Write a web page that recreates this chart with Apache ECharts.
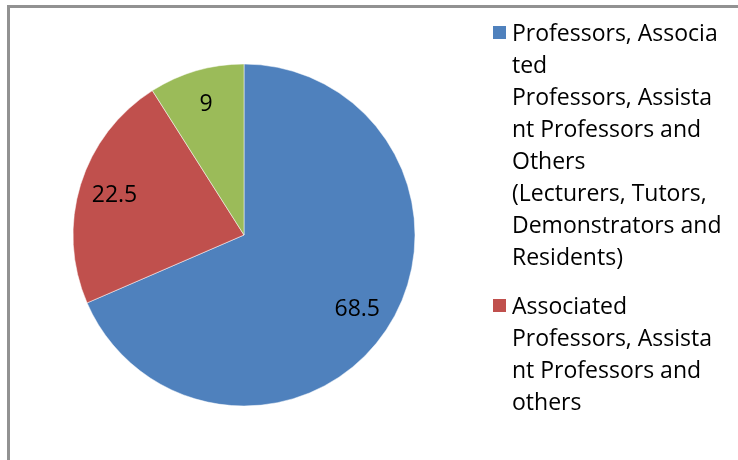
<!DOCTYPE html>
<html>
<head>
<meta charset="utf-8">
<script src="https://cdn.jsdelivr.net/npm/echarts@6/dist/echarts.min.js"></script>
<style>
  html, body { margin: 0; padding: 0; background: #fff; }
  #chart { width: 738px; height: 460px; }
</style>
</head>
<body>
<div id="chart"></div>
<script>
// categories as shown in the legend (line breaks as in the picture)
var categories = [
    'Professors, Associa\nted\nProfessors, Assista\nnt Professors and\nOthers\n(Lecturers, Tutors,\nDemonstrators and\nResidents)',
    'Associated\nProfessors, Assista\nnt Professors and\nothers',
    'Others'
];
var values = [68.5, 22.5, 9];
var colors = ['#4F81BD', '#C0504D', '#9BBB59'];

var FONT = '"Open Sans", sans-serif';
var LINE = 32;

var chartDiv = document.getElementById('chart');
var chart = echarts.init(chartDiv);

var pieData = categories.map(function (name, i) {
    return { name: name, value: values[i], itemStyle: { color: colors[i] } };
});

// legend marker sits next to the first line of a multi-line label
function legendIcon(lines) {
    var h = lines * LINE;
    return 'path://M0,0h0.01M0,7h15v15h-15zM0,' + h + 'h0.01';
}
function makeLegend(idx, top) {
    var lines = categories[idx].split('\n').length;
    return {
        orient: 'vertical',
        left: 491,
        top: top,
        padding: 0,
        itemWidth: 15,
        itemHeight: lines * LINE,
        selectedMode: false,
        icon: legendIcon(lines),
        data: [categories[idx]],
        textStyle: {
            fontFamily: FONT,
            fontSize: 23,
            lineHeight: LINE,
            color: '#000'
        }
    };
}

var option = {
    animation: false,
    backgroundColor: '#fff',
    graphic: [{
        type: 'rect',
        shape: { x: 8.5, y: 6.5, width: 800, height: 500 },
        style: { fill: 'none', stroke: '#929292', lineWidth: 3 },
        silent: true
    }],
    legend: [makeLegend(0, 17), makeLegend(1, 290)],
    series: [
        {
            name: 'pie',
            type: 'pie',
            center: [244, 235],
            radius: 171,
            startAngle: 90,
            clockwise: true,
            label: { show: false },
            labelLine: { show: false },
            itemStyle: { borderColor: '#fff', borderWidth: 0.5 },
            emphasis: { disabled: true },
            data: pieData
        },
        {
            // transparent ring only carries the value labels at ~0.78 r
            name: 'labels',
            type: 'pie',
            center: [244, 235],
            radius: [94, 171],
            startAngle: 90,
            clockwise: true,
            silent: true,
            itemStyle: { color: 'rgba(0,0,0,0)' },
            label: {
                show: true,
                position: 'inside',
                formatter: '{c}',
                fontFamily: FONT,
                fontSize: 23,
                color: '#000'
            },
            labelLine: { show: false },
            emphasis: { disabled: true },
            data: values.map(function (v, i) { return { name: categories[i], value: v }; })
        }
    ]
};

chart.setOption(option);
</script>
</body>
</html>
